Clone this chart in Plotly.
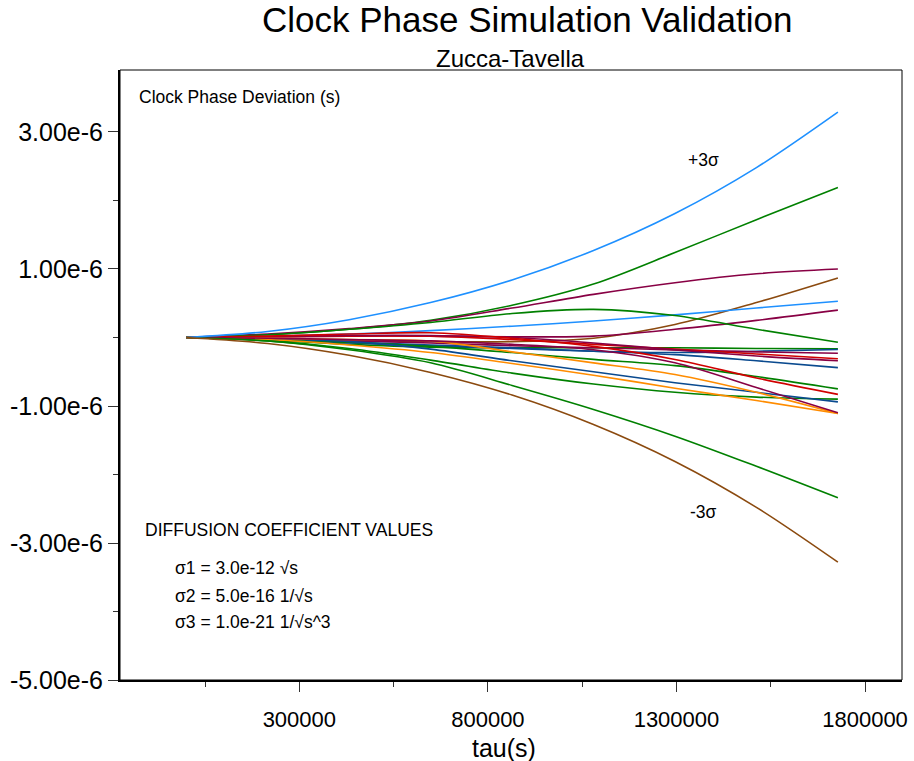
import plotly.graph_objects as go

# time axis (seconds)
tau = [0, 216000, 432000, 648000, 864000, 1080000, 1296000, 1512000, 1728000]

# phase deviation values, in units of 1e-6 s
env_pos   = [0, 0.088, 0.26, 0.51, 0.84, 1.27, 1.81, 2.48, 3.29]
env_neg   = [0, -0.088, -0.26, -0.51, -0.84, -1.27, -1.81, -2.48, -3.28]
green_a   = [0, 0.04, 0.12, 0.25, 0.47, 0.78, 1.24, 1.72, 2.19]
maroon_a  = [0, 0.05, 0.13, 0.24, 0.43, 0.63, 0.80, 0.93, 1.00]
brown_a   = [0, -0.02, -0.04, -0.06, -0.06, -0.01, 0.19, 0.51, 0.87]
blue_a    = [0, 0.02, 0.05, 0.10, 0.165, 0.24, 0.33, 0.43, 0.53]
maroon_b  = [0, 0.01, 0.02, 0.02, 0.01, 0.02, 0.12, 0.25, 0.40]
green_b   = [0, 0.04, 0.12, 0.22, 0.35, 0.41, 0.32, 0.12, -0.07]
green_c   = [0, -0.04, -0.10, -0.14, -0.15, -0.15, -0.15, -0.16, -0.165]
dblue_a   = [0, -0.03, -0.08, -0.12, -0.16, -0.20, -0.22, -0.20, -0.175]
maroon_c  = [0, -0.02, -0.05, -0.08, -0.12, -0.15, -0.18, -0.21, -0.23]
red_a     = [0, 0.01, 0.02, 0.02, -0.03, -0.10, -0.17, -0.24, -0.31]
maroon_d  = [0, 0.01, 0.03, 0.03, 0.0, -0.08, -0.18, -0.27, -0.34]
dblue_b   = [0, -0.03, -0.07, -0.11, -0.15, -0.20, -0.25, -0.34, -0.44]
green_d   = [0, -0.02, -0.07, -0.13, -0.22, -0.32, -0.41, -0.57, -0.75]
red_b     = [0, 0.02, 0.05, 0.07, -0.01, -0.13, -0.32, -0.59, -0.83]
green_e   = [0, -0.05, -0.16, -0.33, -0.52, -0.68, -0.80, -0.87, -0.90]
dblue_c   = [0, -0.02, -0.06, -0.17, -0.34, -0.50, -0.66, -0.80, -0.94]
orange_a  = [0, -0.01, -0.03, -0.05, -0.21, -0.37, -0.54, -0.80, -1.11]
orange_b  = [0, -0.03, -0.11, -0.22, -0.38, -0.55, -0.74, -0.92, -1.11]
maroon_e  = [0, -0.01, -0.03, -0.05, -0.10, -0.18, -0.37, -0.73, -1.10]
green_f   = [0, -0.05, -0.18, -0.37, -0.70, -1.05, -1.44, -1.88, -2.34]

BLUE, BROWN, GREEN, MAROON = "#1E90FF", "#8B4A0F", "#008000", "#880044"
RED, DBLUE, ORANGE = "#D00000", "#0A4A8F", "#FF8C00"

series = [
    (green_a, GREEN), (maroon_a, MAROON), (brown_a, BROWN), (blue_a, BLUE),
    (maroon_b, MAROON), (green_b, GREEN), (green_c, GREEN), (dblue_a, DBLUE),
    (maroon_c, MAROON), (red_a, RED), (maroon_d, MAROON), (dblue_b, DBLUE),
    (green_d, GREEN), (red_b, RED), (green_e, GREEN), (dblue_c, DBLUE),
    (orange_a, ORANGE), (orange_b, ORANGE), (maroon_e, MAROON), (green_f, GREEN),
    (env_pos, BLUE), (env_neg, BROWN),
]

fig = go.Figure()
for vals, col in series:
    fig.add_trace(go.Scatter(
        x=tau, y=[v * 1e-6 for v in vals], mode="lines",
        line=dict(color=col, width=1.6, shape="spline", smoothing=0.9),
        showlegend=False, hoverinfo="skip"))

FONT = "Liberation Sans, Arial, sans-serif"

x_ticks = [300000, 800000, 1300000, 1800000]
x_minor = [50000, 550000, 1050000, 1550000]
y_ticks = [-5e-6, -3e-6, -1e-6, 1e-6, 3e-6]
y_labels = ["-5.00e-6", "-3.00e-6", "-1.00e-6", "1.00e-6", "3.00e-6"]
y_minor = [-4e-6, -2e-6, 0, 2e-6]

fig.update_layout(
    width=914, height=761,
    margin=dict(l=120, r=6, t=70, b=81),
    paper_bgcolor="white", plot_bgcolor="white",
    font=dict(family=FONT, color="black"),
    xaxis=dict(range=[-175500, 1898000], tickmode="array", tickvals=x_ticks,
               ticktext=[str(v) for v in x_ticks], ticks="outside", ticklen=10,
               tickwidth=1, tickcolor="#333", showgrid=False, zeroline=False,
               showline=True, linecolor="black", linewidth=2,
               tickfont=dict(size=22), ticklabelstandoff=9,
               minor=dict(tickvals=x_minor, ticks="outside", ticklen=5,
                          tickcolor="#333", showgrid=False)),
    yaxis=dict(range=[-5e-6, 3.905e-6], tickmode="array", tickvals=y_ticks,
               ticktext=y_labels, ticks="outside", ticklen=10, tickwidth=1,
               tickcolor="#333", showgrid=False, zeroline=False,
               showline=True, linecolor="black", linewidth=2,
               tickfont=dict(size=25),
               minor=dict(tickvals=y_minor, ticks="outside", ticklen=5,
                          tickcolor="#333", showgrid=False)),
    shapes=[dict(type="rect", xref="paper", yref="paper", x0=0, x1=1, y0=0, y1=1,
                 line=dict(color="black", width=1))],
)

ann = [
    dict(text="Clock Phase Simulation Validation", x=530, y=20, size=35),
    dict(text="Zucca-Tavella", x=513, y=58, size=24),
    dict(text="tau(s)", x=507, y=748, size=25),
]
for a in ann:
    fig.add_annotation(text=a["text"], xref="paper", yref="paper",
                       x=(a["x"] - 120) / 788, y=1 - (a["y"] - 70) / 610,
                       xanchor="center", yanchor="middle", showarrow=False,
                       font=dict(size=a["size"], family=FONT))

left_notes = [
    ("Clock Phase Deviation (s)", 137, 97),
    ("DIFFUSION COEFFICIENT VALUES", 143, 530),
    ("σ1 = 3.0e-12 √s", 173, 568),
    ("σ2 = 5.0e-16 1/√s", 173, 596),
    ("σ3 = 1.0e-21 1/√s^3", 173, 622),
    ("+3σ", 690, 160),
    ("-3σ", 692, 512),
]
for t, px, py in left_notes:
    fig.add_annotation(text=t, xref="paper", yref="paper",
                       x=(px - 120) / 788, y=1 - (py - 70) / 610,
                       xanchor="left", yanchor="middle", showarrow=False,
                       font=dict(size=17.5, family=FONT))

fig.write_html("out.html", config={"displayModeBar": False},
               post_script="document.body.style.margin='0';")
